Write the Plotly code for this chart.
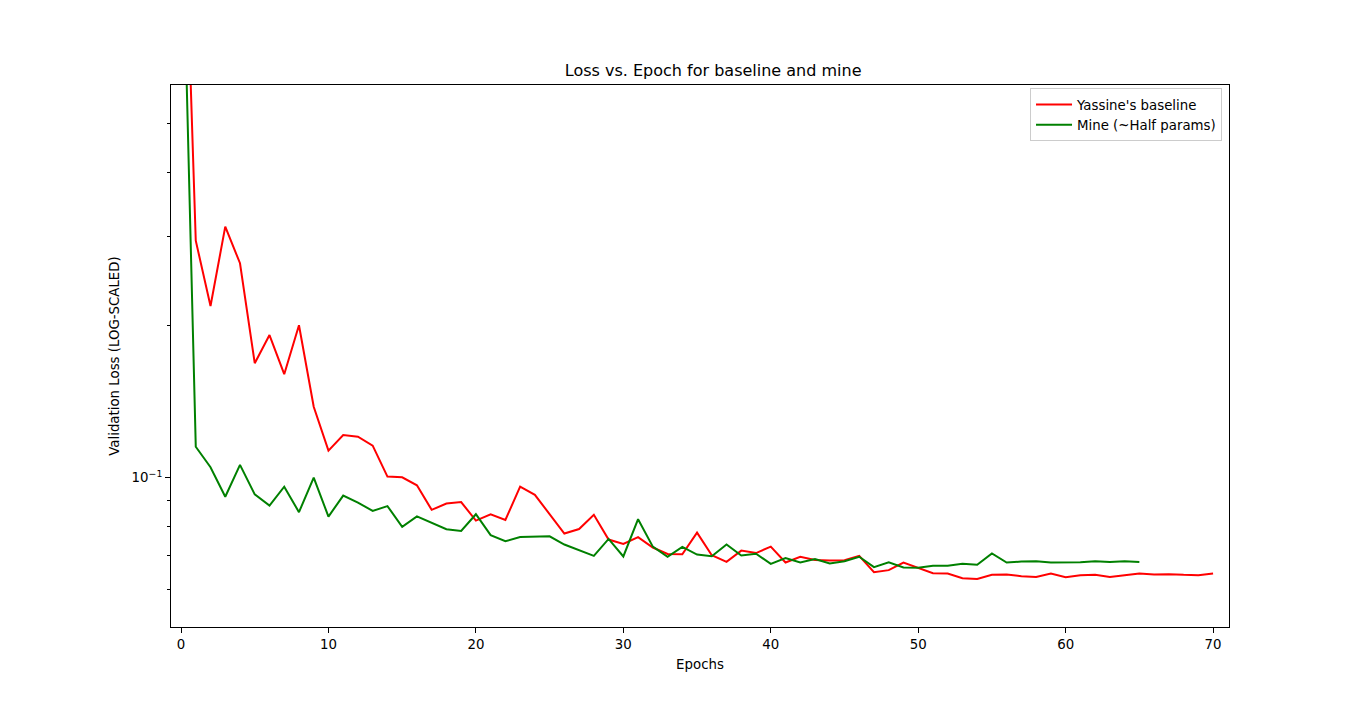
import plotly.graph_objects as go

# Epoch indices
epochs_baseline = list(range(71))
epochs_mine = list(range(66))

# Validation loss values
loss_baseline = [
    2.34, 0.2938, 0.2182, 0.3131, 0.2651, 0.1682, 0.1912, 0.1600, 0.1999, 0.1380,
    0.1130, 0.1213, 0.1204, 0.1156, 0.1004, 0.1001, 0.0965, 0.0863, 0.0888, 0.0894,
    0.0822, 0.0846, 0.0824, 0.0959, 0.0924, 0.0844, 0.0775, 0.0791, 0.0844, 0.0754,
    0.0739, 0.0762, 0.0727, 0.0706, 0.0705, 0.0778, 0.0702, 0.0681, 0.0717, 0.0709,
    0.0730, 0.0679, 0.0697, 0.0687, 0.0685, 0.0686, 0.0700, 0.0650, 0.0656, 0.0679,
    0.0663, 0.0647, 0.0646, 0.0632, 0.0630, 0.0642, 0.0643, 0.0638, 0.0636, 0.0646,
    0.0635, 0.0641, 0.0642, 0.0636, 0.0641, 0.0646, 0.0643, 0.0644, 0.0642, 0.0641,
    0.0646,
]
loss_mine = [
    1.69, 0.1150, 0.1048, 0.0916, 0.1059, 0.0926, 0.0880, 0.0959, 0.0854, 0.0999,
    0.0837, 0.0921, 0.0892, 0.0859, 0.0878, 0.0799, 0.0838, 0.0813, 0.0790, 0.0784,
    0.0846, 0.0769, 0.0748, 0.0763, 0.0763, 0.0765, 0.0737, 0.0718, 0.0700, 0.0756,
    0.0698, 0.0827, 0.0730, 0.0697, 0.0729, 0.0704, 0.0699, 0.0737, 0.0701, 0.0707,
    0.0675, 0.0693, 0.0679, 0.0690, 0.0676, 0.0683, 0.0697, 0.0665, 0.0680, 0.0664,
    0.0663, 0.0669, 0.0669, 0.0675, 0.0672, 0.0708, 0.0679, 0.0682, 0.0683, 0.0679,
    0.0679, 0.0680, 0.0683, 0.0681, 0.0683, 0.0681,
]

x_ticks = [0, 10, 20, 30, 40, 50, 60, 70]
y_major_ticks = [0.1]
y_major_labels = ["10<sup>\u22121</sup>"]
y_minor_ticks = [0.06, 0.07, 0.08, 0.09, 0.2, 0.3, 0.4, 0.5]

FONT = "DejaVu Sans"

fig = go.Figure()
fig.add_trace(go.Scatter(
    x=epochs_baseline, y=loss_baseline, mode="lines",
    name="Yassine's baseline", line=dict(color="#ff0000", width=2),
))
fig.add_trace(go.Scatter(
    x=epochs_mine, y=loss_mine, mode="lines",
    name="Mine (~Half params)", line=dict(color="#008000", width=2),
))

fig.update_layout(
    width=1366, height=705,
    margin=dict(l=171, r=137, t=85, b=78, pad=0),
    paper_bgcolor="white", plot_bgcolor="white",
    font=dict(family=FONT, size=13.33, color="black"),
    title=dict(
        text="Loss vs. Epoch for baseline and mine",
        x=700 / 1366, xanchor="center", xref="paper",
        y=1 - 70 / 705, yanchor="middle", yref="container",
        font=dict(family=FONT, size=16, color="black"),
    ),
    showlegend=True,
    legend=dict(
        x=0.9934, y=0.994, xanchor="right", yanchor="top",
        bgcolor="rgba(255,255,255,0.8)", bordercolor="#cccccc", borderwidth=1,
        font=dict(family=FONT, size=13.33, color="black"),
        itemwidth=36, tracegroupgap=0,
    ),
    xaxis=dict(
        range=[-0.68, 71.08],
        tickmode="array", tickvals=x_ticks,
        ticks="outside", ticklen=5, tickwidth=1, tickcolor="black",
        showline=True, linecolor="black", linewidth=1, mirror=True,
        showgrid=False, zeroline=False,
        tickfont=dict(family=FONT, size=13.33, color="black"),
        title=dict(text="Epochs", standoff=8,
                   font=dict(family=FONT, size=13.33, color="black")),
    ),
    yaxis=dict(
        type="log",
        range=[-1.2955, -0.2243],
        tickmode="array", tickvals=y_major_ticks, ticktext=y_major_labels,
        ticks="outside", ticklen=5, tickwidth=1, tickcolor="black",
        minor=dict(tickmode="array", tickvals=y_minor_ticks, ticks="outside",
                   ticklen=3, tickwidth=1, tickcolor="black", showgrid=False),
        showline=True, linecolor="black", linewidth=1, mirror=True,
        showgrid=False, zeroline=False,
        tickfont=dict(family=FONT, size=13.33, color="black"),
        title=dict(text="Validation Loss (LOG-SCALED)", standoff=8,
                   font=dict(family=FONT, size=13.33, color="black")),
    ),
)

fig.write_html("out.html")
